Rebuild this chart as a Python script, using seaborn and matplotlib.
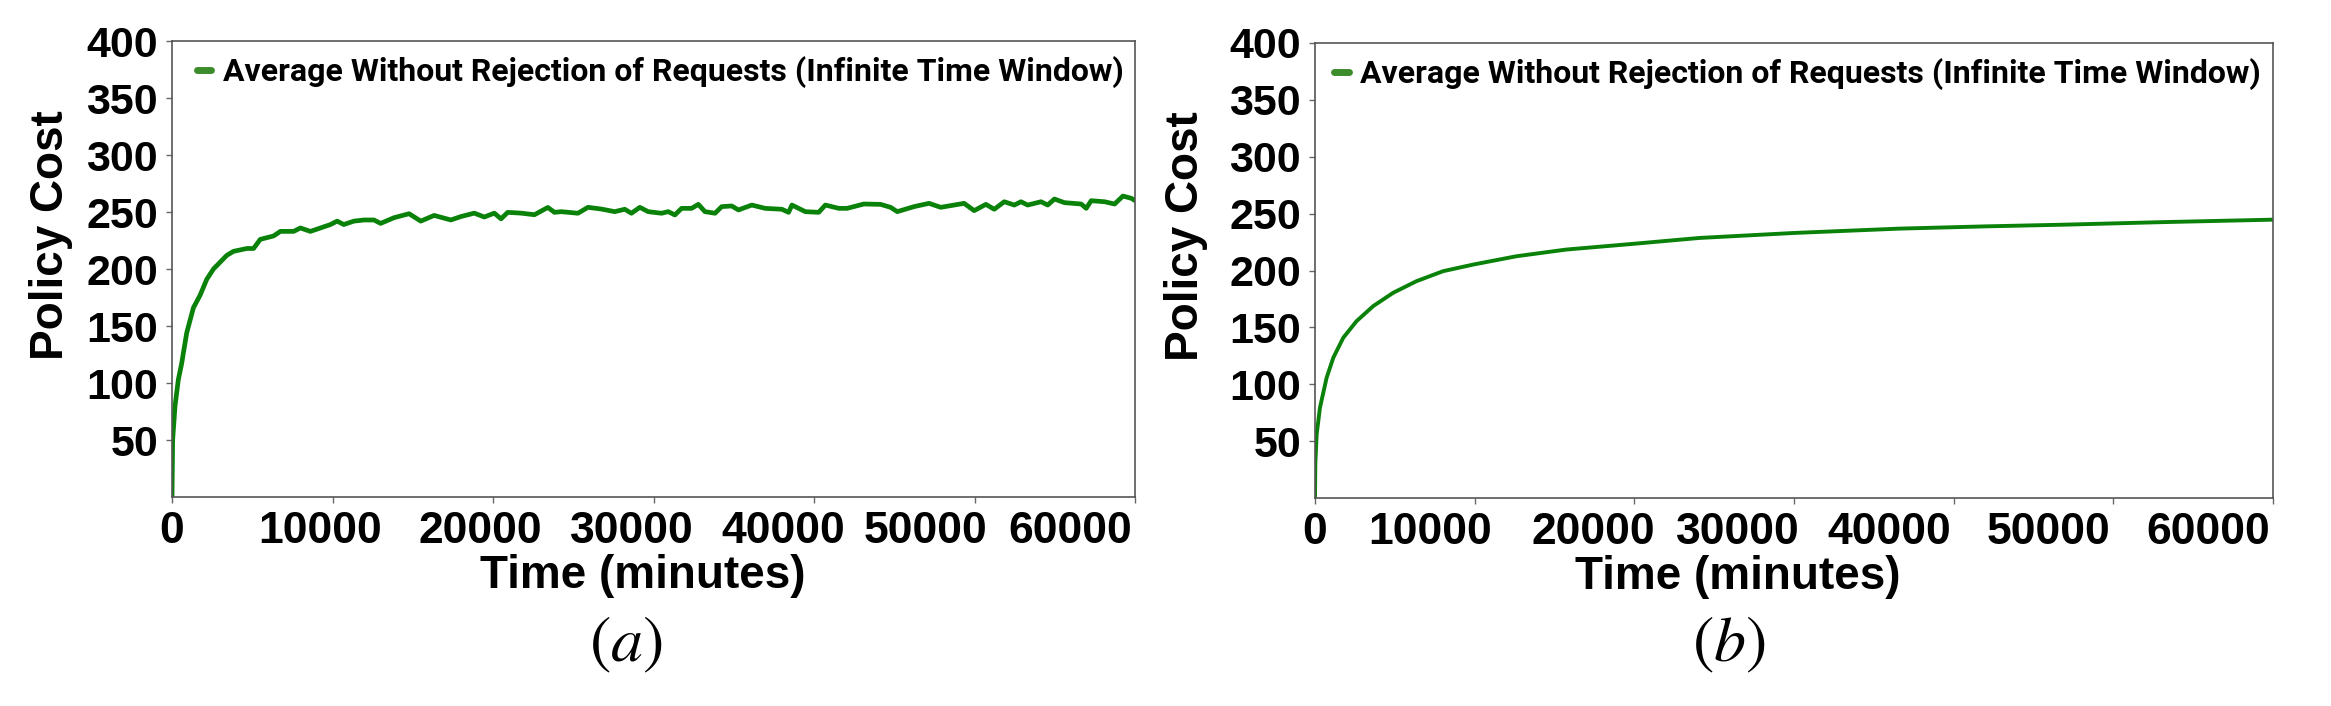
import matplotlib
matplotlib.use("Agg")
import matplotlib.pyplot as plt
import matplotlib.transforms as mtransforms
import seaborn as sns
import pandas as pd

# ---- data ----
time_a = [0, 40, 190, 395, 600, 917, 1333, 1750, 2167, 2583, 3000, 3417, 3833, 4667, 5083,
          5500, 6333, 6750, 7583, 8000, 8625, 9250, 9875, 10290, 10700, 11333, 11958, 12583,
          13000, 13833, 14770, 15500, 16333, 17375, 18000, 18833, 19458, 20083, 20500, 20917,
          21750, 22583, 23417, 23833, 24250, 25292, 25917, 26750, 27583, 28208, 28625, 29146,
          29667, 30500, 30917, 31333, 31750, 32375, 32792, 33208, 33833, 34250, 34875, 35292,
          36125, 36958, 38000, 38417, 38625, 39458, 40292, 40708, 41542, 42063, 43104, 44146,
          44771, 45188, 46229, 47167, 47896, 48729, 49354, 49979, 50708, 51229, 51854, 52479,
          52896, 53313, 54146, 54563, 54979, 55604, 56646, 56958, 57271, 58104, 58729, 59250,
          59771, 60000]
cost_a = [0, 50, 80, 103, 117, 144, 166, 177, 191, 200, 206, 212, 215.5, 218, 218,
          226, 229, 233, 233, 236, 233, 236, 239, 242, 239, 242, 243, 243,
          240, 245, 248.5, 242, 247, 243, 246, 249, 245.6, 249, 244, 249.7,
          249, 247.6, 254, 249.7, 250.3, 248.9, 254.1, 252.6, 250.3, 252.4, 248.9, 254.1,
          250.3, 248.9, 250.3, 247.4, 253.2, 253.2, 256.7, 250.3, 248.9, 254.7, 255.3, 251.8,
          256.1, 253.2, 252.4, 249.7, 256.1, 250.3, 249.7, 256.1, 253.2, 253.2, 257.0, 256.7,
          254.1, 250.3, 254.7, 257.6, 254.1, 256.1, 257.6, 251.2, 256.7, 252.4, 259.0, 256.1,
          259.0, 256.1, 259.0, 256.1, 261.4, 258.2, 257.0, 253.2, 259.9, 259.0, 257.0, 264.0,
          262.0, 260.0]

time_b = [0, 20, 104, 312, 729, 1146, 1771, 2604, 3646, 4896, 6354, 8021, 9938, 12604,
          15729, 19896, 24063, 30000, 36563, 42000, 46979, 53000, 60000]
cost_b = [0, 29.8, 56, 79.5, 105.8, 123.3, 140.9, 155.5, 168.7, 180.4, 190.6, 199.4, 205.3,
          212.5, 218.4, 223.4, 228.6, 233.0, 236.8, 238.8, 240.3, 242.5, 244.7]

series_label = "Average Without Rejection of Requests (Infinite Time Window)"
x_ticks = [0, 10000, 20000, 30000, 40000, 50000, 60000]
y_ticks = [50, 100, 150, 200, 250, 300, 350, 400]
panel_labels = ["$(a)$", "$(b)$"]

sns.set_theme(style="white")
plt.rcParams["font.family"] = ["Liberation Sans", "DejaVu Sans"]
plt.rcParams["mathtext.fontset"] = "stix"
plt.rcParams["text.color"] = "black"
plt.rcParams["axes.labelcolor"] = "black"
plt.rcParams["xtick.color"] = "black"
plt.rcParams["ytick.color"] = "black"

fig = plt.figure(figsize=(23.31, 7.06), dpi=100)
ax_a = fig.add_axes([172 / 2331, 1 - 497 / 706, 963 / 2331, 456 / 706])
ax_b = fig.add_axes([1315 / 2331, 1 - 498 / 706, 958 / 2331, 455 / 706])

df_a = pd.DataFrame({"Time": time_a, "Cost": cost_a})
df_b = pd.DataFrame({"Time": time_b, "Cost": cost_b})

line_color = "#0a820a"
sns.lineplot(data=df_a, x="Time", y="Cost", ax=ax_a, color=line_color, lw=3.4,
             label=series_label)
sns.lineplot(data=df_b, x="Time", y="Cost", ax=ax_b, color=line_color, lw=2.8,
             label=series_label)

# layout-only: horizontal shift (px) of each x tick label, as in the reference
label_shift = [[0, -12, -13, -22, -31, -49, -65], [0, -45, -41, -56, -64, -65, -65]]
xlabel_pos = [0.489, 0.4415]
ylabel_pos = [-0.103, -0.112]
legend_x = [0.026, 0.020]
for ax, xl, yl, shifts in zip([ax_a, ax_b], xlabel_pos, ylabel_pos, label_shift):
    ax.set_xlim(0, 60000)
    ax.set_ylim(0, 400)
    ax.set_xticks(x_ticks)
    ax.set_yticks(y_ticks)
    ax.set_xticklabels([str(t) for t in x_ticks], fontsize=32, fontweight="bold")
    ax.set_yticklabels([str(t) for t in y_ticks], fontsize=31, fontweight="bold")
    ax.tick_params(axis="both", which="major", direction="out", length=4, width=1,
                   color="#666666", labelcolor="black", pad=6, bottom=True, left=True)
    for lab, dx in zip(ax.get_xticklabels(), shifts):
        lab.set_transform(lab.get_transform() +
                          mtransforms.ScaledTranslation(dx / 100, 0, fig.dpi_scale_trans))
    for s in ax.spines.values():
        s.set_color("#555555")
        s.set_linewidth(1.2)
    ax.set_xlabel("Time (minutes)", fontsize=33, fontweight="bold", color="black")
    ax.set_ylabel("Policy Cost", fontsize=33, fontweight="bold", color="black")
    ax.xaxis.set_label_coords(xl, -0.125)
    ax.yaxis.set_label_coords(yl, 0.575)

for ax, lx in zip([ax_a, ax_b], legend_x):
    leg = ax.legend(loc="center left", bbox_to_anchor=(lx, 0.932), frameon=False,
                    borderaxespad=0, borderpad=0, handlelength=0.45, handletextpad=0.36,
                    prop={"family": "Roboto", "weight": "bold", "size": 23})
    for t in leg.get_texts():
        t.set_color("black")
    for h in leg.legend_handles:
        h.set_linewidth(5)
        h.set_color("#3c8c2c")

for lbl, xc in zip(panel_labels, [626 / 2331, 1729 / 2331]):
    fig.text(xc, 1 - 645 / 706, lbl, ha="center", va="center", fontsize=46, color="black")

fig.savefig("out.png", dpi=100)
